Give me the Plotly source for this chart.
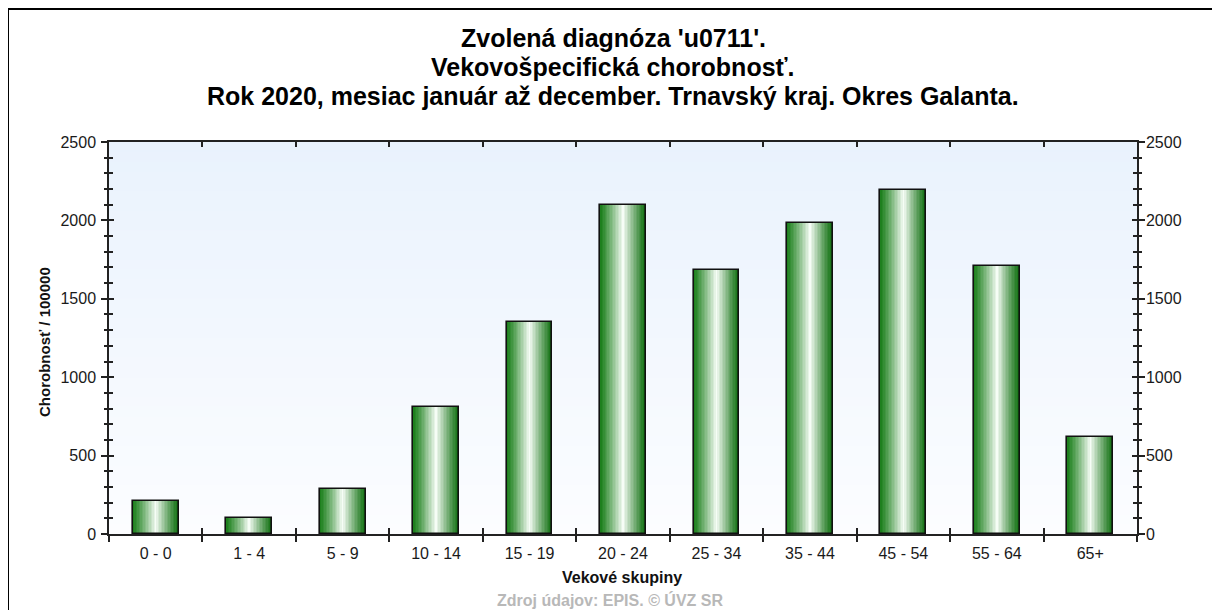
import plotly.graph_objects as go

# ---------------- data ----------------
categories = ["0 - 0", "1 - 4", "5 - 9", "10 - 14", "15 - 19", "20 - 24",
              "25 - 34", "35 - 44", "45 - 54", "55 - 64", "65+"]
values = [212, 104, 287, 812, 1354, 2098, 1684, 1981, 2194, 1711, 617]
y_tick_values = [0, 500, 1000, 1500, 2000, 2500]

title_lines = [
    "Zvolená diagnóza 'u0711'.",
    "Vekovošpecifická chorobnosť.",
    "Rok 2020, mesiac január až december. Trnavský kraj. Okres Galanta.",
]
x_title = "Vekové skupiny"
y_title = "Chorobnosť / 100000"
source_text = "Zdroj údajov: EPIS. © ÚVZ SR"

# ---------------- layout geometry ----------------
OFF = 8  # default page body margin
W, H = 1220 - OFF, 610 - OFF
PLOT_L, PLOT_R, PLOT_T, PLOT_B = 109, 1137, 142, 534  # page pixels
L = PLOT_L - OFF
T = PLOT_T - OFF
R = W - (PLOT_R - OFF)
B = H - (PLOT_B - OFF)
PW, PH = W - L - R, H - T - B


def px_x(px):
    return (px - OFF - L) / PW


def px_y(py):
    return (PLOT_B - py) / PH


FONT = "Liberation Sans, Arial, sans-serif"
YMAX = 2500
n = len(categories)
XR = [-0.5, n - 0.5]
boundaries = [i - 0.5 for i in range(n + 1)]

fig = go.Figure()

# ---------------- gradient bars (vertical strips) ----------------
BW = 0.49
NS = 31
edge_left = (26, 126, 26)
edge_right = (14, 110, 14)
center = (246, 253, 246)


def mix(a, b, t):
    return tuple(int(round(a[k] + (b[k] - a[k]) * t)) for k in range(3))


ws = BW / NS
for i in range(NS):
    f = (i + 0.5) / NS
    if f <= 0.5:
        t = (f / 0.5) ** 1.15
        c = mix(edge_left, center, t)
    else:
        t = ((1 - f) / 0.5) ** 1.15
        c = mix(edge_right, center, t)
    w = ws * (1.7 if i < NS - 1 else 1.0)
    fig.add_trace(go.Bar(
        x=categories, y=values,
        width=[w] * n, offset=[-BW / 2 + i * ws] * n,
        marker=dict(color="rgb(%d,%d,%d)" % c, line=dict(width=0)),
        hoverinfo="skip", showlegend=False,
        xaxis="x", yaxis="y",
    ))

# outline
fig.add_trace(go.Bar(
    x=categories, y=values, width=[BW] * n,
    marker=dict(color="rgba(0,0,0,0)", line=dict(color="#111111", width=1.6)),
    showlegend=False, xaxis="x", yaxis="y",
    hovertemplate="%{x}: %{y}<extra></extra>",
))

# empty traces to activate overlay axes (ticks drawn on both sides of axis lines)
for xa, ya in [("x2", "y"), ("x3", "y"), ("x", "y2"), ("x", "y3"), ("x", "y4")]:
    fig.add_trace(go.Scatter(x=[], y=[], xaxis=xa, yaxis=ya, showlegend=False,
                             hoverinfo="skip"))

# ---------------- background gradient ----------------
shapes = []
NB = 40
top_c = (233, 242, 253)
bot_c = (252, 253, 255)
for k in range(NB):
    c = mix(bot_c, top_c, (k + 0.5) / NB)
    shapes.append(dict(type="rect", xref="x domain", yref="y domain",
                       x0=0, x1=1, y0=k / NB, y1=(k + 1) / NB + 0.002,
                       fillcolor="rgb(%d,%d,%d)" % c, line=dict(width=0),
                       layer="below"))
# outer frame
shapes.append(dict(type="rect", xref="paper", yref="paper",
                   x0=px_x(8), x1=px_x(1216), y0=px_y(640), y1=px_y(9),
                   line=dict(color="black", width=2), fillcolor="rgba(0,0,0,0)",
                   layer="above"))

tick_font = dict(family=FONT, size=16, color="#1a1a1a")
AX = "#222222"

annotations = []
for line, py in zip(title_lines, [38, 67, 96]):
    annotations.append(dict(text="<b>%s</b>" % line, xref="paper", yref="paper",
                            x=px_x(613), y=px_y(py), xanchor="center", yanchor="middle",
                            showarrow=False, font=dict(family=FONT, size=25, color="black")))
annotations.append(dict(text="<b>%s</b>" % x_title, xref="paper", yref="paper",
                        x=px_x(622), y=px_y(577), xanchor="center", yanchor="middle",
                        showarrow=False, font=dict(family=FONT, size=16, color="#111111")))
annotations.append(dict(text="<b>%s</b>" % y_title, xref="paper", yref="paper",
                        x=px_x(44), y=px_y(342), xanchor="center", yanchor="middle",
                        textangle=-90, showarrow=False,
                        font=dict(family=FONT, size=15, color="#111111")))
annotations.append(dict(text="<b>%s</b>" % source_text, xref="paper", yref="paper",
                        x=px_x(610), y=px_y(600), xanchor="center", yanchor="middle",
                        showarrow=False, font=dict(family=FONT, size=16, color="#b8b8b8")))

fig.update_layout(
    width=W, height=H,
    margin=dict(l=L, r=R, t=T, b=B, pad=0),
    paper_bgcolor="white", plot_bgcolor="white",
    barmode="overlay", bargap=0,
    shapes=shapes, annotations=annotations,
    xaxis=dict(type="category", categoryorder="array", categoryarray=categories,
               range=XR, tickson="boundaries", ticks="outside", ticklen=6,
               tickwidth=1.5, tickcolor=AX, showline=True, linecolor=AX, linewidth=1.5,
               showgrid=False, zeroline=False, tickfont=tick_font, anchor="y",
               ticklabelstandoff=4, fixedrange=True),
    xaxis2=dict(overlaying="x", side="top", anchor="y", type="linear", range=XR,
                tickmode="array", tickvals=boundaries, ticks="inside", ticklen=5,
                tickwidth=1.5, tickcolor=AX, showticklabels=False, showline=True,
                linecolor=AX, linewidth=1.5, showgrid=False, zeroline=False),
    xaxis3=dict(overlaying="x", side="bottom", anchor="y", type="linear", range=XR,
                tickmode="array", tickvals=boundaries, ticks="inside", ticklen=6,
                tickwidth=1.5, tickcolor=AX, showticklabels=False, showline=False,
                showgrid=False, zeroline=False),
    yaxis=dict(range=[0, YMAX], tickmode="array", tickvals=y_tick_values,
               ticks="outside", ticklen=6, tickwidth=1.5, tickcolor=AX,
               minor=dict(dtick=100, ticks="outside", ticklen=3, tickwidth=1.5,
                          tickcolor=AX, showgrid=False),
               showline=True, linecolor=AX, linewidth=1.5, showgrid=False,
               zeroline=False, tickfont=tick_font, anchor="x", side="left",
               ticklabelstandoff=2, fixedrange=True),
    yaxis2=dict(overlaying="y", side="right", anchor="x", range=[0, YMAX],
                tickmode="array", tickvals=y_tick_values,
                ticks="outside", ticklen=6, tickwidth=1.5, tickcolor=AX,
                minor=dict(dtick=100, ticks="outside", ticklen=3, tickwidth=1.5,
                           tickcolor=AX, showgrid=False),
                showline=True, linecolor=AX, linewidth=1.5, showgrid=False,
                zeroline=False, tickfont=tick_font, ticklabelstandoff=-2),
    yaxis3=dict(overlaying="y", side="left", anchor="x", range=[0, YMAX],
                tickmode="array", tickvals=y_tick_values,
                ticks="inside", ticklen=5, tickwidth=1.5, tickcolor=AX,
                minor=dict(dtick=100, ticks="inside", ticklen=4, tickwidth=1.5,
                           tickcolor=AX, showgrid=False),
                showticklabels=False, showline=False, showgrid=False, zeroline=False),
    yaxis4=dict(overlaying="y", side="right", anchor="x", range=[0, YMAX],
                tickmode="array", tickvals=y_tick_values,
                ticks="inside", ticklen=5, tickwidth=1.5, tickcolor=AX,
                minor=dict(dtick=100, ticks="inside", ticklen=4, tickwidth=1.5,
                           tickcolor=AX, showgrid=False),
                showticklabels=False, showline=False, showgrid=False, zeroline=False),
)

fig.write_html("out.html")
